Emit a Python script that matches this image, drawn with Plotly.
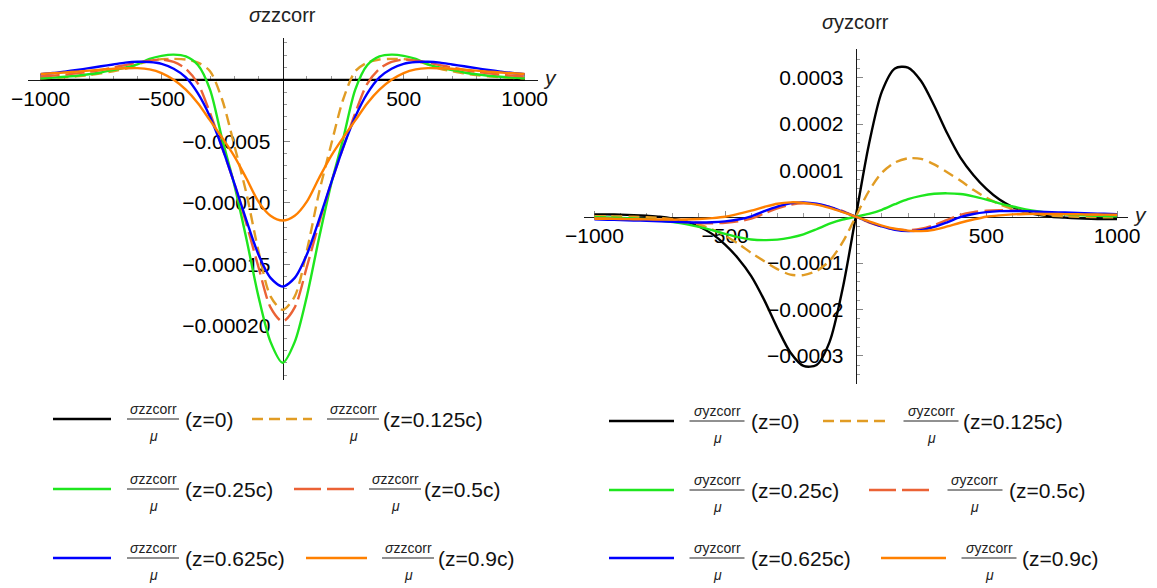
import plotly.graph_objects as go

W, H = 1157, 588
FONT = "Liberation Sans, Arial, sans-serif"

# sample positions along y
y_pts = list(range(-1000, 1001, 50))

# ---- sigma_zz corr / mu (left panel) ----
szz_z0 = [0.0] * 41
szz_z0125 = [
    1.2e-6, 1.6e-6, 2.1e-6, 2.8e-6, 3.8e-6, 5.2e-6, 7.0e-6, 9.0e-6, 1.25e-5, 1.55e-5,
    1.68e-5, 1.70e-5, 1.65e-5, 1.40e-5, 7.0e-6, -1.6e-5, -5.3e-5, -9.2e-5, -1.39e-4, -1.76e-4,
    -1.87e-4,
    -1.76e-4, -1.39e-4, -9.2e-5, -5.3e-5, -1.6e-5, 7.0e-6, 1.40e-5, 1.65e-5, 1.70e-5, 1.68e-5,
    1.55e-5, 1.25e-5, 9.0e-6, 7.0e-6, 5.2e-6, 3.8e-6, 2.8e-6, 2.1e-6, 1.6e-6, 1.2e-6,
]
szz_z025 = [
    1.3e-6, 1.8e-6, 2.5e-6, 3.3e-6, 4.5e-6, 6.0e-6, 8.0e-6, 1.0e-5, 1.25e-5, 1.7e-5,
    1.95e-5, 2.05e-5, 1.9e-5, 1.2e-5, -8.0e-6, -4.8e-5, -8.5e-5, -1.29e-4, -1.76e-4, -2.13e-4,
    -2.30e-4,
    -2.13e-4, -1.76e-4, -1.29e-4, -8.5e-5, -4.8e-5, -8.0e-6, 1.2e-5, 1.9e-5, 2.05e-5, 1.95e-5,
    1.7e-5, 1.25e-5, 1.0e-5, 8.0e-6, 6.0e-6, 4.5e-6, 3.3e-6, 2.5e-6, 1.8e-6, 1.3e-6,
]
szz_z05 = [
    2.8e-6, 3.4e-6, 4.2e-6, 5.2e-6, 6.5e-6, 8.0e-6, 1.0e-5, 1.2e-5, 1.4e-5, 1.55e-5,
    1.65e-5, 1.45e-5, 9.0e-6, -3.0e-6, -2.7e-5, -5.5e-5, -8.4e-5, -1.17e-4, -1.52e-4, -1.85e-4,
    -1.965e-4,
    -1.85e-4, -1.52e-4, -1.17e-4, -8.4e-5, -5.5e-5, -2.7e-5, -3.0e-6, 9.0e-6, 1.45e-5, 1.65e-5,
    1.55e-5, 1.4e-5, 1.2e-5, 1.0e-5, 8.0e-6, 6.5e-6, 5.2e-6, 4.2e-6, 3.4e-6, 2.8e-6,
]
szz_z0625 = [
    4.6e-6, 5.5e-6, 6.7e-6, 8.0e-6, 9.5e-6, 1.1e-5, 1.25e-5, 1.4e-5, 1.47e-5, 1.45e-5,
    1.3e-5, 9.0e-6, 2.0e-6, -1.1e-5, -3.0e-5, -5.5e-5, -8.4e-5, -1.14e-4, -1.42e-4, -1.61e-4,
    -1.68e-4,
    -1.61e-4, -1.42e-4, -1.14e-4, -8.4e-5, -5.5e-5, -3.0e-5, -1.1e-5, 2.0e-6, 9.0e-6, 1.3e-5,
    1.45e-5, 1.47e-5, 1.4e-5, 1.25e-5, 1.1e-5, 9.5e-6, 8.0e-6, 6.7e-6, 5.5e-6, 4.6e-6,
]
szz_z09 = [
    4.7e-6, 5.3e-6, 6.0e-6, 6.7e-6, 7.5e-6, 8.3e-6, 9.0e-6, 9.4e-6, 9.5e-6, 8.5e-6,
    5.5e-6, 0.0, -8.0e-6, -1.9e-5, -3.3e-5, -4.7e-5, -6.2e-5, -8.0e-5, -9.9e-5, -1.105e-4,
    -1.144e-4,
    -1.105e-4, -9.9e-5, -8.0e-5, -6.2e-5, -4.7e-5, -3.3e-5, -1.9e-5, -8.0e-6, 0.0, 5.5e-6,
    8.5e-6, 9.5e-6, 9.4e-6, 9.0e-6, 8.3e-6, 7.5e-6, 6.7e-6, 6.0e-6, 5.3e-6, 4.7e-6,
]

# ---- sigma_yz corr / mu (right panel) ----
syz_z0 = [
    5.0e-6, 5.0e-6, 4.5e-6, 3.5e-6, 2.0e-6, 0.0, -4.0e-6, -1.0e-5, -2.1e-5, -3.7e-5,
    -6.0e-5, -9.0e-5, -1.28e-4, -1.8e-4, -2.4e-4, -2.93e-4, -3.22e-4, -3.2e-4, -2.7e-4, -1.55e-4,
    0.0,
    1.55e-4, 2.7e-4, 3.2e-4, 3.22e-4, 2.93e-4, 2.4e-4, 1.8e-4, 1.28e-4, 9.0e-5, 6.0e-5,
    3.7e-5, 2.1e-5, 1.0e-5, 4.0e-6, 0.0, -2.0e-6, -3.5e-6, -4.5e-6, -5.0e-6, -5.0e-6,
]
syz_z0125 = [
    1.0e-6, 1.0e-6, 5.0e-7, 0.0, -1.0e-6, -2.5e-6, -5.5e-6, -1.0e-5, -1.7e-5, -2.7e-5,
    -4.1e-5, -5.8e-5, -7.8e-5, -9.6e-5, -1.13e-4, -1.25e-4, -1.26e-4, -1.17e-4, -9.5e-5, -5.5e-5,
    0.0,
    5.5e-5, 9.5e-5, 1.17e-4, 1.26e-4, 1.25e-4, 1.13e-4, 9.6e-5, 7.8e-5, 5.8e-5, 4.1e-5,
    2.7e-5, 1.7e-5, 1.0e-5, 5.5e-6, 2.5e-6, 1.0e-6, 0.0, -5.0e-7, -1.0e-6, -1.0e-6,
]
syz_z025 = [
    -1.2e-6, -1.7e-6, -2.5e-6, -3.7e-6, -5.5e-6, -8.0e-6, -1.15e-5, -1.6e-5, -2.2e-5, -2.9e-5,
    -3.7e-5, -4.4e-5, -4.9e-5, -5.05e-5, -4.95e-5, -4.5e-5, -3.8e-5, -2.7e-5, -1.5e-5, -6.0e-6,
    0.0,
    6.0e-6, 1.5e-5, 2.7e-5, 3.8e-5, 4.5e-5, 4.95e-5, 5.05e-5, 4.9e-5, 4.4e-5, 3.7e-5,
    2.9e-5, 2.2e-5, 1.6e-5, 1.15e-5, 8.0e-6, 5.5e-6, 3.7e-6, 2.5e-6, 1.7e-6, 1.2e-6,
]
syz_z05 = [
    -3.5e-6, -4.2e-6, -5.0e-6, -6.0e-6, -7.0e-6, -8.5e-6, -1.0e-5, -1.2e-5, -1.35e-5, -1.4e-5,
    -1.3e-5, -1.0e-5, -4.0e-6, 7.0e-6, 1.8e-5, 2.6e-5, 2.9e-5, 2.7e-5, 2.1e-5, 1.2e-5,
    0.0,
    -1.2e-5, -2.1e-5, -2.7e-5, -2.9e-5, -2.6e-5, -1.8e-5, -7.0e-6, 4.0e-6, 1.0e-5, 1.3e-5,
    1.4e-5, 1.35e-5, 1.2e-5, 1.0e-5, 8.5e-6, 7.0e-6, 6.0e-6, 5.0e-6, 4.2e-6, 3.5e-6,
]
syz_z0625 = [
    -5.7e-6, -6.4e-6, -7.2e-6, -8.0e-6, -9.0e-6, -1.0e-5, -1.1e-5, -1.2e-5, -1.25e-5, -1.2e-5,
    -1.0e-5, -6.0e-6, 1.0e-6, 1.2e-5, 2.2e-5, 2.9e-5, 3.1e-5, 2.8e-5, 2.1e-5, 1.1e-5,
    0.0,
    -1.1e-5, -2.1e-5, -2.8e-5, -3.1e-5, -2.9e-5, -2.2e-5, -1.2e-5, -1.0e-6, 6.0e-6, 1.0e-5,
    1.2e-5, 1.25e-5, 1.2e-5, 1.1e-5, 1.0e-5, 9.0e-6, 8.0e-6, 7.2e-6, 6.4e-6, 5.7e-6,
]
syz_z09 = [
    -4.2e-6, -4.5e-6, -4.9e-6, -5.3e-6, -5.7e-6, -6.0e-6, -6.2e-6, -6.0e-6, -5.0e-6, -3.0e-6,
    0.0, 6.0e-6, 1.3e-5, 2.1e-5, 2.8e-5, 3.1e-5, 3.0e-5, 2.6e-5, 1.9e-5, 1.0e-5,
    0.0,
    -1.0e-5, -1.9e-5, -2.6e-5, -3.0e-5, -3.1e-5, -2.8e-5, -2.1e-5, -1.3e-5, -6.0e-6, 0.0,
    3.0e-6, 5.0e-6, 6.0e-6, 6.2e-6, 6.0e-6, 5.7e-6, 5.3e-6, 4.9e-6, 4.5e-6, 4.2e-6,
]

z_labels = ["(z=0)", "(z=0.125c)", "(z=0.25c)", "(z=0.5c)", "(z=0.625c)", "(z=0.9c)"]
colors = ["#000000", "#E19C24", "#1EE61E", "#EB6235", "#0000FF", "#FF8000"]
dashes = ["solid", "11px,6px", "solid", "19px,6px", "solid", "solid"]

szz_series = [szz_z0, szz_z0125, szz_z025, szz_z05, szz_z0625, szz_z09]
syz_series = [syz_z0, syz_z0125, syz_z025, syz_z05, syz_z0625, syz_z09]

# axis ranges and placement
L_XR, L_YR = [-1052, 1055], [-2.44e-4, 3.4e-5]
R_XR, R_YR = [-1040, 1042], [-3.61e-4, 3.62e-4]
L_XD, L_YD = [28 / W, 538 / W], [1 - 380 / H, 1 - 38 / H]
R_XD, R_YD = [584 / W, 1128 / W], [1 - 384 / H, 1 - 49 / H]


def zero_frac(rng, dom):
    return dom[0] + (0 - rng[0]) / (rng[1] - rng[0]) * (dom[1] - dom[0])


fig = go.Figure()
for vals, col, dsh in zip(szz_series, colors, dashes):
    fig.add_trace(go.Scatter(x=y_pts, y=vals, mode="lines", xaxis="x", yaxis="y",
                             line=dict(color=col, width=2.4, dash=dsh, shape="spline", smoothing=0.8),
                             hoverinfo="skip"))
for vals, col, dsh in zip(syz_series, colors, dashes):
    fig.add_trace(go.Scatter(x=y_pts, y=vals, mode="lines", xaxis="x2", yaxis="y2",
                             line=dict(color=col, width=2.4, dash=dsh, shape="spline", smoothing=0.8),
                             hoverinfo="skip"))

tickfont = dict(family=FONT, size=21, color="black")
x_major = [-1000, -500, 500, 1000]
x_major_txt = ["\u22121000", "\u2212500", "500", "1000"]
x_minor = [v for v in range(-1000, 1001, 100) if v % 500 != 0]


def x_axis(rng, dom, pos):
    return dict(domain=dom, range=rng, anchor="free", position=pos, side="bottom",
                automargin=False,
                showline=True, linecolor="#1a1a1a", linewidth=1, showgrid=False, zeroline=False,
                ticks="inside", ticklen=6, tickcolor="#888", tickwidth=1,
                tickmode="array", tickvals=x_major, ticktext=x_major_txt,
                minor=dict(ticks="inside", ticklen=3.5, tickcolor="#999", tickwidth=1,
                           tickmode="array", tickvals=x_minor),
                tickfont=tickfont, layer="below traces", ticklabelstandoff=0, fixedrange=True)


def y_axis(rng, dom, pos, major, major_txt, minor):
    return dict(domain=dom, range=rng, anchor="free", position=pos, side="left",
                automargin=False,
                showline=True, linecolor="#1a1a1a", linewidth=1, showgrid=False, zeroline=False,
                ticks="inside", ticklen=6, tickcolor="#888", tickwidth=1,
                tickmode="array", tickvals=major, ticktext=major_txt,
                minor=dict(ticks="inside", ticklen=3.5, tickcolor="#999", tickwidth=1,
                           tickmode="array", tickvals=minor),
                tickfont=tickfont, layer="below traces", ticklabelstandoff=8, fixedrange=True)


l_y_major = [-5e-5, -1e-4, -1.5e-4, -2e-4]
l_y_txt = ["\u22120.00005", "\u22120.00010", "\u22120.00015", "\u22120.00020"]
l_y_minor = [k * 1e-5 for k in range(-24, 4) if k % 5 != 0]
r_y_major = [-3e-4, -2e-4, -1e-4, 1e-4, 2e-4, 3e-4]
r_y_txt = ["\u22120.0003", "\u22120.0002", "\u22120.0001", "0.0001", "0.0002", "0.0003"]
r_y_minor = [k * 2e-5 for k in range(-18, 19) if k % 5 != 0]

fig.update_layout(
    width=W, height=H, margin=dict(l=0, r=0, t=0, b=0, autoexpand=False),
    paper_bgcolor="white", plot_bgcolor="white", showlegend=False,
    xaxis=x_axis(L_XR, L_XD, zero_frac(L_YR, L_YD)),
    yaxis=y_axis(L_YR, L_YD, zero_frac(L_XR, L_XD), l_y_major, l_y_txt, l_y_minor),
    xaxis2=x_axis(R_XR, R_XD, zero_frac(R_YR, R_YD)),
    yaxis2=y_axis(R_YR, R_YD, zero_frac(R_XR, R_XD), r_y_major, r_y_txt, r_y_minor),
)

# axis labels
ann = []
ann.append(dict(text="<i>\u03c3</i>zzcorr", xref="x", x=0, yref="paper", y=1 - 15 / H,
                showarrow=False, font=dict(family=FONT, size=20, color="#222"),
                xanchor="center", yanchor="middle"))
ann.append(dict(text="<i>\u03c3</i>yzcorr", xref="x2", x=0, yref="paper", y=1 - 22 / H,
                showarrow=False, font=dict(family=FONT, size=20, color="#222"),
                xanchor="center", yanchor="middle"))
ann.append(dict(text="<i>y</i>", xref="x", x=L_XR[1], yref="y", y=0, showarrow=False,
                font=dict(family=FONT, size=21, color="#222"), xanchor="left", yanchor="middle",
                xshift=3, yshift=2))
ann.append(dict(text="<i>y</i>", xref="x2", x=R_XR[1], yref="y2", y=0, showarrow=False,
                font=dict(family=FONT, size=21, color="#222"), xanchor="left", yanchor="middle",
                xshift=3, yshift=2))

shapes = []


def legend_key(col, dsh, x0, x1, yrow, fcx, fw, num, px, label):
    shapes.append(dict(type="line", xref="paper", yref="paper", x0=x0 / W, x1=x1 / W,
                       y0=1 - yrow / H, y1=1 - yrow / H, line=dict(color=col, width=2.4, dash=dsh)))
    shapes.append(dict(type="line", xref="paper", yref="paper", x0=(fcx - fw / 2) / W,
                       x1=(fcx + fw / 2) / W, y0=1 - yrow / H, y1=1 - yrow / H,
                       line=dict(color="#222", width=1)))
    ann.append(dict(text=num, xref="paper", yref="paper", x=fcx / W, y=1 - (yrow - 10) / H,
                    showarrow=False, font=dict(family=FONT, size=14, color="#222"),
                    xanchor="center", yanchor="middle"))
    ann.append(dict(text="<i>\u03bc</i>", xref="paper", yref="paper", x=fcx / W, y=1 - (yrow + 17) / H,
                    showarrow=False, font=dict(family=FONT, size=14, color="#222"),
                    xanchor="center", yanchor="middle"))
    ann.append(dict(text=label, xref="paper", yref="paper", x=px / W, y=1 - yrow / H,
                    showarrow=False, font=dict(family=FONT, size=21, color="#111"),
                    xanchor="left", yanchor="middle"))


num_zz = "<i>\u03c3</i>zzcorr"
num_yz = "<i>\u03c3</i>yzcorr"
leg_dashes = ["solid", "11px,6px", "solid", "27px,6px", "solid", "solid"]

# left legend: (line x0, x1, row y, fraction centre, label x)
left_keys = [(53, 111, 419, 153, 183), (252, 312, 419, 353, 381),
             (53, 111, 489, 153, 183), (294, 354, 489, 395, 422),
             (53, 111, 558, 153, 183), (306, 367, 558, 408, 436)]
right_keys = [(609, 674, 421, 717, 749), (823, 887, 421, 931, 961),
              (609, 674, 490, 717, 749), (869, 932, 490, 975, 1007),
              (609, 674, 558, 717, 749), (881, 946, 558, 989, 1020)]

for i, (x0, x1, yr, fc, px) in enumerate(left_keys):
    legend_key(colors[i], leg_dashes[i], x0, x1, yr, fc, 52, num_zz, px, z_labels[i])
for i, (x0, x1, yr, fc, px) in enumerate(right_keys):
    legend_key(colors[i], leg_dashes[i], x0, x1, yr, fc, 55, num_yz, px, z_labels[i])

fig.update_layout(annotations=ann, shapes=shapes)
fig.write_html("out.html")
